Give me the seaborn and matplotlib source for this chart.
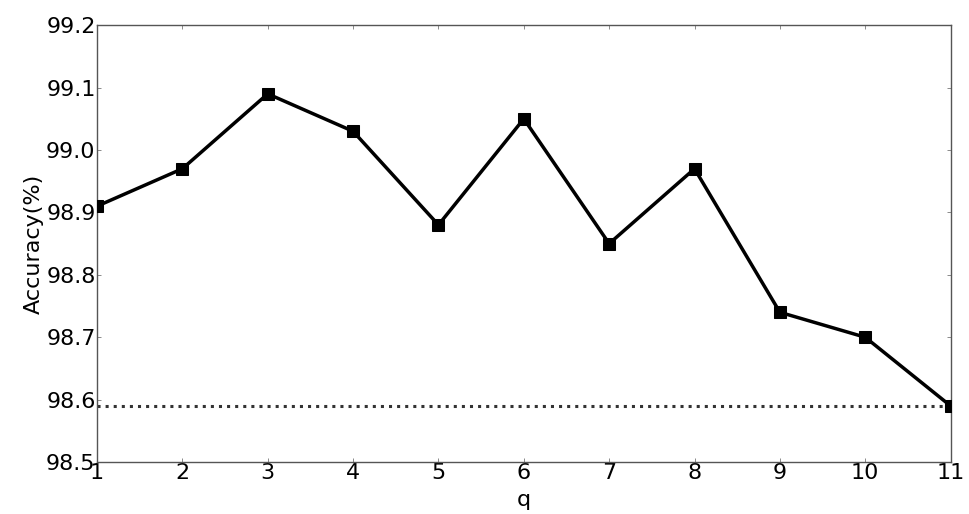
import matplotlib
matplotlib.use("Agg")
import matplotlib.pyplot as plt
import seaborn as sns
import pandas as pd

q = [1, 2, 3, 4, 5, 6, 7, 8, 9, 10, 11]
accuracy = [98.91, 98.97, 99.09, 99.03, 98.88, 99.05, 98.85, 98.97, 98.74, 98.70, 98.59]
baseline = 98.59
yticks = [98.5, 98.6, 98.7, 98.8, 98.9, 99.0, 99.1, 99.2]

sns.set_style("white")
plt.rcParams['font.family'] = ['DejaVu Sans']

df = pd.DataFrame({"q": q, "acc": accuracy})

fig = plt.figure(figsize=(9.7, 5.14), dpi=100)
ax = fig.add_axes([0.1, 0.101, 0.880, 0.850])

ax.axhline(baseline, color="#333333", linestyle=":", linewidth=2.2, zorder=1)
sns.lineplot(data=df, x="q", y="acc", ax=ax, color="black", linewidth=2.5,
             marker="s", markersize=9, markeredgecolor="black", zorder=3)

ax.set_xlim(1, 11)
ax.set_ylim(98.5, 99.2)
ax.set_xticks(q)
ax.set_yticks(yticks)
ax.set_yticklabels([f"{v:.1f}" for v in yticks])
ax.tick_params(direction="in", length=3, width=0.6, labelsize=16, pad=1,
               left=True, bottom=True, top=True, right=True, colors="#777777",
               labelcolor="black")
for s in ax.spines.values():
    s.set_color("#555555")
    s.set_linewidth(1.0)
ax.set_xlabel("q", fontsize=16, labelpad=5, color="black")
ax.set_ylabel("Accuracy(%)", fontsize=16, labelpad=2, color="black")

fig.savefig("out.png", dpi=100)
